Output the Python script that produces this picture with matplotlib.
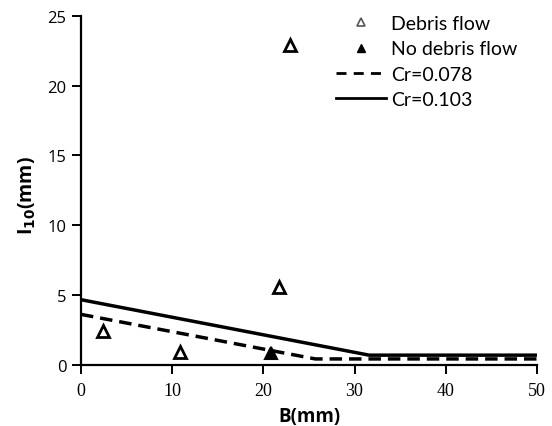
import matplotlib
matplotlib.use("Agg")
import matplotlib.pyplot as plt
from matplotlib.lines import Line2D

# Data
debris_x = [2.4, 10.9, 21.7, 22.9]
debris_y = [2.4, 0.9, 5.6, 22.9]
nodebris_x = [20.8]
nodebris_y = [0.85]
cr078_x = [0, 25.7, 50]
cr078_y = [3.62, 0.43, 0.43]
cr103_x = [0, 31.6, 50]
cr103_y = [4.67, 0.70, 0.70]
x_ticks = [0, 10, 20, 30, 40, 50]
y_ticks = [0, 5, 10, 15, 20, 25]

fig = plt.figure(figsize=(5.52, 4.27), dpi=100)
ax = fig.add_axes([0.1467, 0.143, 0.826, 0.818])

ax.plot(cr078_x, cr078_y, color='black', lw=2.5, ls=(0, (3.6, 2.0)), label='Cr=0.078', zorder=2)
ax.plot(cr103_x, cr103_y, color='black', lw=2.5, ls='-', label='Cr=0.103', zorder=2)
ax.plot(debris_x, debris_y, ls='none', marker='^', ms=9, mfc='white', mec='black', mew=2.0, zorder=3)
ax.plot(nodebris_x, nodebris_y, ls='none', marker='^', ms=9, mfc='black', mec='black', mew=1.5, zorder=3)

ax.set_xlim(0, 50)
ax.set_ylim(0, 25)
ax.set_xticks(x_ticks)
ax.set_yticks(y_ticks)
ax.set_xticklabels([str(t) for t in x_ticks], family='Liberation Serif', fontsize=13)
ax.set_yticklabels([str(t) for t in y_ticks], family='Open Sans', fontsize=12)
for s in ['top', 'right']:
    ax.spines[s].set_visible(False)
for s in ['left', 'bottom']:
    ax.spines[s].set_linewidth(1.6)
ax.tick_params(direction='out', length=6.5, width=1.4)
ax.tick_params(axis='x', pad=6)
ax.tick_params(axis='y', pad=4)

ax.set_xlabel('B(mm)', family='Open Sans', fontweight='bold', fontsize=13.5, labelpad=5)
ax.set_ylabel(r'I$_{\mathbf{10}}$(mm)', family='Open Sans', fontweight='bold', fontsize=14)
ax.yaxis.set_label_coords(-0.094, 0.489)

handles = [
    Line2D([], [], ls='none', marker='^', ms=5.5, mfc='white', mec='#555555', mew=1.2),
    Line2D([], [], ls='none', marker='^', ms=5.5, mfc='black', mec='black', mew=1.0),
    Line2D([], [], color='black', lw=2.0, ls=(0, (3.6, 2.6))),
    Line2D([], [], color='black', lw=2.0, ls='-'),
]
labels = ['Debris flow', 'No debris flow', 'Cr=0.078', 'Cr=0.103']
leg = fig.legend(handles, labels, loc='upper left', bbox_to_anchor=(336 / 552, 1 - 16 / 427),
                 bbox_transform=fig.transFigure, frameon=False,
                 prop={'family': 'Lato', 'size': 14}, handlelength=2.55, handletextpad=0.28,
                 labelspacing=0.43, borderpad=0, borderaxespad=0)

fig.savefig('out.png', dpi=100)
